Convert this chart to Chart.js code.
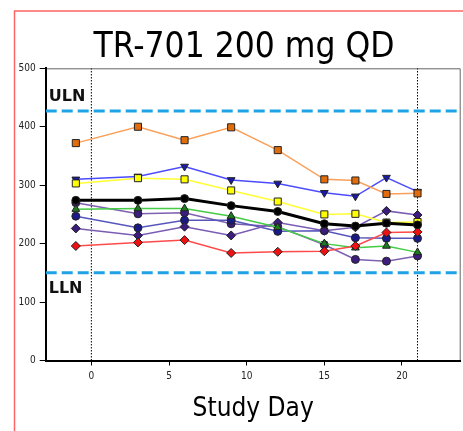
<!DOCTYPE html>
<html>
<head>
<meta charset="utf-8">
<script src="https://cdn.jsdelivr.net/npm/chart.js@4"></script>
<style>
    body { margin: 0; background: #fff; overflow: hidden; }
    canvas { display: block; }
</style>
</head>
<body>
<canvas id="graph" width="463" height="431"></canvas>
<script>
// study days sampled
const studyDays = [-1, 3, 6, 9, 12, 15, 17, 19, 21];

// one array per subject
const orangeVals = [372, 400, 377, 399, 360, 310, 308, 285, 286];
const blueVals = [310, 315, 332, 309, 303, 287, 281, 313, 289];
const yellowVals = [303, 312, 310, 291, 272, 250, 251, 236, 237];
const blackVals = [274, 274, 277, 265, 255, 234, 230, 235, 232];
const greenVals = [259, 260, 260, 247, 228, 200, 193, 196, 185];
const navyVals = [247, 227, 240, 240, 221, 222, 210, 209, 209];
const purpleCircleVals = [270, 251, 253, 234, 229, 198, 173, 170, 179];
const purpleDiamondVals = [226, 214, 229, 214, 236, 222, 228, 256, 249];
const redVals = [196, 202, 206, 184, 186, 187, 196, 219, 220];

const ULN = 427;
const LLN = 150;
const refDays = [0, 21];

const xTickValues = [0, 5, 10, 15, 20];
const yTickValues = [0, 100, 200, 300, 400, 500];
const xMin = -2.94, xMax = 23.78;

const titleText = 'TR-701 200 mg QD';
const FONT = "'DejaVu Sans Condensed', 'DejaVu Sans', sans-serif";

function pts(vals) {
    return studyDays.map((d, i) => ({ x: d, y: vals[i] }));
}

function subject(vals, line, fill, style, radius, opts) {
    return Object.assign({
        data: pts(vals),
        borderColor: line,
        borderWidth: 1.5,
        pointStyle: style,
        pointRadius: radius,
        pointBackgroundColor: fill,
        pointBorderColor: '#222',
        pointBorderWidth: 1,
        order: 5
    }, opts || {});
}

function refLine(y, order) {
    return {
        data: [{ x: xMin, y: y }, { x: xMax, y: y }],
        borderColor: '#1ea4e4',
        borderWidth: 3,
        borderDash: [11, 5],
        pointRadius: 0,
        order: order
    };
}

function dayLine(d) {
    return {
        data: [{ x: d, y: 0 }, { x: d, y: 500 }],
        borderColor: '#000',
        borderWidth: 1,
        borderDash: [1.5, 1.5],
        pointRadius: 0,
        order: 20
    };
}

const datasets = [
    refLine(ULN, 19),
    refLine(LLN, 19),
    ...refDays.map(dayLine),
    subject(redVals, '#ff4a4a', '#ee1111', 'rectRot', 4.5, { order: 6 }),
    subject(purpleDiamondVals, '#7a5cb4', '#3c1c7c', 'rectRot', 4.5, { order: 7 }),
    subject(purpleCircleVals, '#7e60b0', '#3c1c7c', 'circle', 4, { order: 8 }),
    subject(navyVals, '#5656bc', '#1a1a86', 'circle', 4, { order: 7 }),
    subject(greenVals, '#44cc44', '#1e7a1e', 'triangle', 4.5, { order: 6 }),
    subject(blackVals, '#000', '#000', 'circle', 4, { borderWidth: 3, order: 4 }),
    subject(yellowVals, '#ffff33', '#ffff00', 'rect', 5, { order: 5 }),
    subject(blueVals, '#4c4cff', '#1a1aa8', 'triangle', 4.5, { pointRotation: 180, order: 5 }),
    subject(orangeVals, '#f9a05a', '#e36c0a', 'rect', 5, { order: 3 })
];

// white page, red frame, title and the thin box round the plot
const framePlugin = {
    id: 'frame',
    beforeDraw(chart) {
        const ctx = chart.ctx;
        const a = chart.chartArea;
        ctx.save();
        ctx.fillStyle = '#fff';
        ctx.fillRect(0, 0, chart.width, chart.height);
        ctx.strokeStyle = '#ff6464';
        ctx.lineWidth = 1.5;
        ctx.beginPath();
        ctx.moveTo(14.5, chart.height);
        ctx.lineTo(14.5, 11);
        ctx.lineTo(chart.width, 11);
        ctx.stroke();
        ctx.strokeStyle = '#666';
        ctx.lineWidth = 1;
        ctx.beginPath();
        ctx.moveTo(a.left, a.top + 0.5);
        ctx.lineTo(a.right - 0.5, a.top + 0.5);
        ctx.lineTo(a.right - 0.5, a.bottom);
        ctx.stroke();
        ctx.fillStyle = '#000';
        ctx.font = '35px ' + FONT;
        ctx.textAlign = 'center';
        ctx.textBaseline = 'alphabetic';
        ctx.fillText(titleText, 244, 57);
        ctx.restore();
    },
    afterDatasetsDraw(chart) {
        const ctx = chart.ctx;
        const y = chart.scales.y;
        const left = chart.chartArea.left + 3;
        ctx.save();
        ctx.fillStyle = '#111';
        ctx.font = "bold 16px 'DejaVu Sans'";
        ctx.textAlign = 'left';
        ctx.textBaseline = 'alphabetic';
        ctx.fillText('ULN', left, y.getPixelForValue(ULN) - 10);
        ctx.fillText('LLN', left, y.getPixelForValue(LLN) + 20);
        ctx.restore();
    }
};

const graph = document.getElementById('graph').getContext('2d');
const chart = new Chart(graph, {
    type: 'line',
    data: { datasets: datasets },
    plugins: [framePlugin],
    options: {
        responsive: false,
        devicePixelRatio: 1,
        animation: false,
        layout: { autoPadding: false, padding: { top: 68.3, right: 2.3, bottom: 0, left: 0 } },
        plugins: {
            legend: { display: false },
            tooltip: { enabled: false },
            title: { display: false }
        },
        scales: {
            x: {
                type: 'linear',
                min: xMin,
                max: xMax,
                afterBuildTicks: s => { s.ticks = xTickValues.map(v => ({ value: v })); },
                afterFit: s => { s.height = 70.5; s.paddingLeft = 0; s.paddingRight = 0; },
                border: { color: '#000', width: 2 },
                grid: { drawOnChartArea: false, tickLength: 5, color: '#000' },
                ticks: { color: '#222', font: { family: FONT, size: 10 }, padding: 5, maxRotation: 0 },
                title: {
                    display: true,
                    text: 'Study Day',
                    color: '#000',
                    font: { family: FONT, size: 26 },
                    padding: { top: 0, bottom: 6 }
                }
            },
            y: {
                min: 0,
                max: 500,
                afterBuildTicks: s => { s.ticks = yTickValues.map(v => ({ value: v })); },
                afterFit: s => { s.width = 45.7; },
                border: { color: '#000', width: 2 },
                grid: { drawOnChartArea: false, tickLength: 6, color: '#000' },
                ticks: { color: '#222', font: { family: FONT, size: 10 }, padding: 4 }
            }
        }
    }
});
</script>
</body>
</html>
